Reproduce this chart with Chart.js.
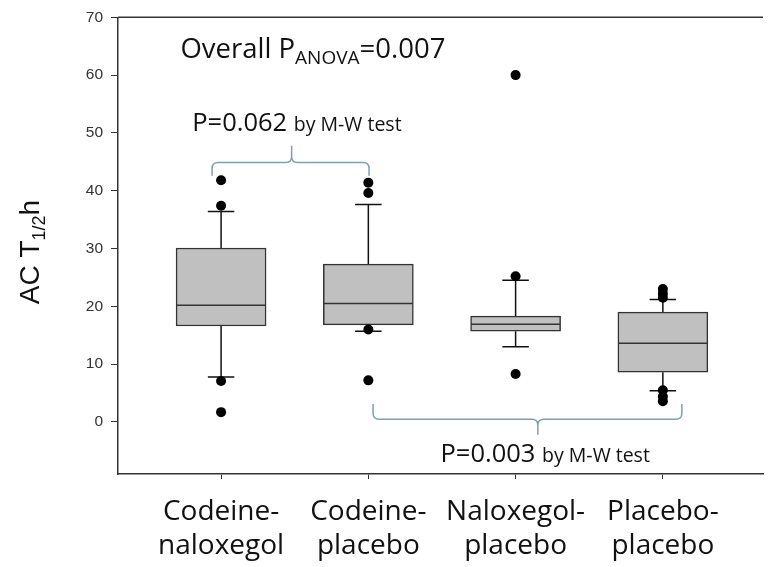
<!DOCTYPE html>
<html>
<head>
<meta charset="utf-8">
<script src="https://cdn.jsdelivr.net/npm/chart.js@4.4.1/dist/chart.umd.min.js"></script>
<style>
html,body{margin:0;padding:0;background:#fff;}
#wrap{position:relative;width:768px;height:567px;}
</style>
</head>
<body>
<div id="wrap"><canvas id="c"></canvas></div>
<script>
// ---- data ----
const categories = [['Codeine-','naloxegol'],['Codeine-','placebo'],['Naloxegol-','placebo'],['Placebo-','placebo']];
const groupPos = [1, 2, 3, 4];
const q1 = [16.6, 16.8, 15.7, 8.6];
const median = [20.2, 20.5, 16.9, 13.6];
const q3 = [30.1, 27.3, 18.3, 19.0];
const whiskerLow = [7.8, 15.7, 13.0, 5.4];
const whiskerHigh = [36.4, 37.6, 24.5, 21.2];
const outliers = [
  [41.8, 37.4, 7.1, 1.7],
  [41.4, 39.6, 16.0, 7.2],
  [60.0, 25.2, 8.3],
  [23.0, 22.2, 21.5, 5.5, 4.4, 3.6]
];
const yTicks = [0, 10, 20, 30, 40, 50, 60, 70];

// ---- layout constants (data units) ----
const BOX_HALF = 0.303;
const CAP_HALF = 0.09;

const medianPts = [];
groupPos.forEach((x, i) => {
  medianPts.push({x: x - BOX_HALF, y: median[i]}, {x: x + BOX_HALF, y: median[i]}, {x: x, y: null});
});
const whiskerPts = [];
groupPos.forEach((x, i) => {
  whiskerPts.push({x: x, y: q3[i]}, {x: x, y: whiskerHigh[i]}, {x: x, y: null});
  whiskerPts.push({x: x - CAP_HALF, y: whiskerHigh[i]}, {x: x + CAP_HALF, y: whiskerHigh[i]}, {x: x, y: null});
  whiskerPts.push({x: x, y: q1[i]}, {x: x, y: whiskerLow[i]}, {x: x, y: null});
  whiskerPts.push({x: x - CAP_HALF, y: whiskerLow[i]}, {x: x + CAP_HALF, y: whiskerLow[i]}, {x: x, y: null});
});
const outlierPts = [];
groupPos.forEach((x, i) => outliers[i].forEach(v => outlierPts.push({x: x, y: v})));

const SANS = '"Open Sans", "Noto Sans", sans-serif';
const ARIAL = '"Liberation Sans", Arial, sans-serif';

function drawRich(ctx, parts, x, y, family) {
  let cx = x;
  for (const p of parts) {
    ctx.font = p.size + 'px ' + family;
    ctx.fillText(p.t, cx, y + (p.dy || 0));
    cx += ctx.measureText(p.t).width;
  }
  return cx - x;
}
function richWidth(ctx, parts, family) {
  let w = 0;
  for (const p of parts) { ctx.font = p.size + 'px ' + family; w += ctx.measureText(p.t).width; }
  return w;
}

const annotPlugin = {
  id: 'annot',
  afterDraw(chart) {
    const ctx = chart.ctx, xs = chart.scales.x, ys = chart.scales.y, ca = chart.chartArea;
    const X = v => xs.getPixelForValue(v), Y = v => ys.getPixelForValue(v);
    ctx.save();
    // top frame line
    ctx.strokeStyle = '#333'; ctx.lineWidth = 1.5;
    ctx.beginPath(); ctx.moveTo(ca.left, ca.top); ctx.lineTo(ca.right, ca.top); ctx.stroke();

    // texts
    ctx.fillStyle = '#111'; ctx.textBaseline = 'alphabetic'; ctx.textAlign = 'left';
    drawRich(ctx, [{t: 'Overall P', size: 27.5}, {t: 'ANOVA', size: 19, dy: 6}, {t: '=0.007', size: 27.5}], X(0.724), Y(62.9), SANS);
    drawRich(ctx, [{t: 'P=0.062 ', size: 25.5}, {t: 'by M-W test', size: 19.5}], X(0.804), Y(50.3), SANS);
    drawRich(ctx, [{t: 'P=0.003 ', size: 25.5}, {t: 'by M-W test', size: 19.5}], X(2.49), Y(-7.0), SANS);

    // braces
    ctx.strokeStyle = '#7f9dbd'; ctx.lineWidth = 1.5;
    function brace(x1, x2, xt, yh, yend, ytip) {
      const a = X(x1), b = X(x2), t = X(xt), h = Y(yh), e = Y(yend), p = Y(ytip);
      const r = 6, s = Math.sign(e - h), q = Math.sign(p - h);
      ctx.beginPath();
      ctx.moveTo(a, e);
      ctx.lineTo(a, h + s * r);
      ctx.quadraticCurveTo(a, h, a + r, h);
      ctx.lineTo(t - r, h);
      ctx.quadraticCurveTo(t, h, t, h + q * r);
      ctx.lineTo(t, p);
      ctx.moveTo(t, h + q * r);
      ctx.quadraticCurveTo(t, h, t + r, h);
      ctx.lineTo(b - r, h);
      ctx.quadraticCurveTo(b, h, b, h + s * r);
      ctx.lineTo(b, e);
      ctx.stroke();
    }
    brace(0.939, 2.005, 1.479, 44.9, 42.6, 47.8);
    brace(2.032, 4.129, 3.151, 0.47, 3.1, -2.2);

    // y-axis title with subscript
    ctx.fillStyle = '#111';
    const parts = [{t: 'AC T', size: 28}, {t: '1/2', size: 18, dy: 6}, {t: 'h', size: 28}];
    const w = richWidth(ctx, parts, ARIAL);
    ctx.translate(39, 252);
    ctx.rotate(-Math.PI / 2);
    drawRich(ctx, parts, -w / 2, 0, ARIAL);
    ctx.restore();
  }
};

new Chart(document.getElementById('c'), {
  type: 'bar',
  data: {
    datasets: [
      {
        type: 'scatter', data: outlierPts, backgroundColor: '#000', borderColor: '#000',
        pointRadius: 5, pointBorderWidth: 0, order: 0
      },
      {
        type: 'scatter', data: medianPts, showLine: true, spanGaps: false,
        borderColor: '#333', borderWidth: 1.5, pointRadius: 0, order: 1
      },
      {
        type: 'bar', data: groupPos.map((x, i) => ({x: x, y: [q1[i], q3[i]]})),
        backgroundColor: '#c0c0c0', borderColor: '#333', borderWidth: 1.5, borderSkipped: false,
        barThickness: 90, order: 2
      },
      {
        type: 'scatter', data: whiskerPts, showLine: true, spanGaps: false,
        borderColor: '#111', borderWidth: 1.5, pointRadius: 0, order: 3
      }
    ]
  },
  options: {
    responsive: true, maintainAspectRatio: false, animation: false,
    layout: {padding: {top: 16, left: 0, right: 0, bottom: 0}},
    plugins: {legend: {display: false}, tooltip: {enabled: false}},
    scales: {
      x: {
        type: 'linear', min: 0.3, max: 4.68, offset: false,
        grid: {display: true, drawOnChartArea: false, drawTicks: true, tickLength: 5, color: '#333', offset: false},
        border: {display: true, color: '#333', width: 1.5},
        afterBuildTicks: axis => { axis.ticks = groupPos.map(v => ({value: v})); },
        afterFit: scale => { scale.height = 93; },
        ticks: {
          autoSkip: false, maxRotation: 0, minRotation: 0, padding: 16, color: '#111',
          font: {family: SANS, size: 28, lineHeight: 1.22},
          callback: (v, i) => categories[i]
        }
      },
      y: {
        type: 'linear', min: -9, max: 70,
        grid: {display: true, drawOnChartArea: false, drawTicks: true, tickLength: 7, color: '#333'},
        border: {display: true, color: '#333', width: 1.5},
        afterBuildTicks: axis => { axis.ticks = yTicks.map(v => ({value: v})); },
        afterFit: scale => { scale.width = 118; },
        ticks: {padding: 8, color: '#333', font: {family: ARIAL, size: 15.5}, callback: v => String(v)}
      }
    }
  },
  plugins: [annotPlugin]
});
</script>
</body>
</html>
